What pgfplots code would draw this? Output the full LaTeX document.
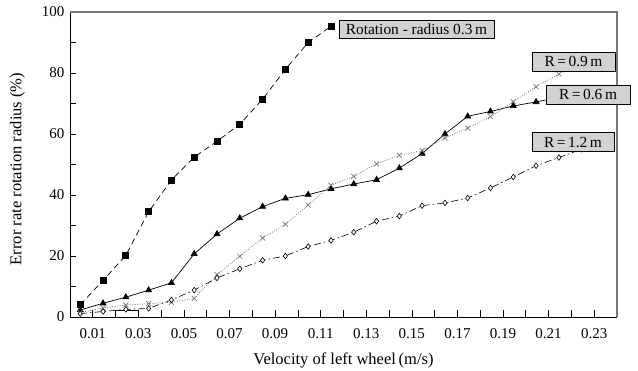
\documentclass[border=0pt]{standalone}
\usepackage{fontspec}
\setmainfont{Liberation Serif}
\usepackage{pgfplots}
\pgfplotsset{compat=1.18}
\definecolor{boxgray}{RGB}{210,210,210}
\definecolor{axgray}{RGB}{120,120,120}
\pgfplotstableread{
x y
0.0045 4.0
0.0145 12.0
0.0245 20.2
0.0345 34.5
0.0445 44.9
0.0545 52.4
0.0645 57.6
0.0745 63.2
0.0845 71.4
0.0945 81.2
0.1045 90.0
0.1145 95.3
}\rotdata
\pgfplotstableread{
x y
0.0045 2.3
0.0145 4.5
0.0245 6.5
0.0345 8.8
0.0445 11.2
0.0545 20.7
0.0645 27.2
0.0745 32.4
0.0845 36.2
0.0945 38.9
0.1045 40.1
0.1145 42.0
0.1245 43.6
0.1345 45.0
0.1445 48.8
0.1545 53.6
0.1645 60.0
0.1745 65.8
0.1845 67.4
0.1945 69.2
0.2045 70.5
0.2145 72.0
0.2245 73.0
}\rsixdata
\pgfplotstableread{
x y
0.0045 1.4
0.0145 3.0
0.0245 3.9
0.0345 4.4
0.0445 4.8
0.0545 6.1
0.0645 13.9
0.0745 19.9
0.0845 25.9
0.0945 30.4
0.1045 36.7
0.1145 43.2
0.1245 46.1
0.1345 50.2
0.1445 53.0
0.1545 54.6
0.1645 58.7
0.1745 61.9
0.1845 65.7
0.1945 70.6
0.2045 75.5
0.2145 79.7
0.2245 83.0
}\rninedata
\pgfplotstableread{
x y
0.0045 1.1
0.0145 1.8
0.0245 2.5
0.0345 2.8
0.0445 5.6
0.0545 8.8
0.0645 12.8
0.0745 15.8
0.0845 18.6
0.0945 20.0
0.1045 23.1
0.1145 25.1
0.1245 27.8
0.1345 31.4
0.1445 33.1
0.1545 36.5
0.1645 37.4
0.1745 39.0
0.1845 42.3
0.1945 45.9
0.2045 49.6
0.2145 52.3
0.2245 55.0
}\rtwelvedata
\begin{document}
\begin{tikzpicture}
\path[use as bounding box] (-70pt,-54pt) rectangle (568pt,317pt);
\begin{axis}[
  width=547pt, height=305pt, scale only axis,
  xmin=0, xmax=0.24, ymin=0, ymax=100,
  axis lines*=left,
  axis line style={black, line width=0.8pt},
  tick align=inside,
  major tick length=6.5pt, minor tick length=6.5pt,
  tick style={black, line width=0.7pt},
  xtick={0.01,0.03,0.05,0.07,0.09,0.11,0.13,0.15,0.17,0.19,0.21,0.23},
  xticklabels={0.01,0.03,0.05,0.07,0.09,0.11,0.13,0.15,0.17,0.19,0.21,0.23},
  minor xtick={0,0.02,0.04,0.06,0.08,0.10,0.12,0.14,0.16,0.18,0.20,0.22,0.24},
  ytick={0,20,40,60,80,100},
  yticklabels={0,20,40,60,80,100},
  minor ytick={10,30,50,70,90},
  xticklabel style={font=\fontsize{15}{17}\selectfont, yshift=-8pt},
  yticklabel style={font=\fontsize{15}{17}\selectfont, xshift=-2pt},
  xlabel={Velocity of left wheel\,(m/s)},
  ylabel={Error rate rotation radius (\%)},
  xlabel style={font=\fontsize{16.5}{18}\selectfont, at={(axis description cs:0.5,-0.143)}, anchor=center},
  ylabel style={font=\fontsize{16.5}{18}\selectfont, at={(axis description cs:-0.096,0.485)}, anchor=center},
  clip=false,
]
\addplot[black, line width=0.7pt, dash pattern=on 6pt off 4pt, mark=square*, mark size=3pt, mark options={solid}] table[x=x,y=y] {\rotdata};
\addplot[black, line width=0.7pt, mark=triangle*, mark size=3.4pt, mark options={solid}] table[x=x,y=y] {\rsixdata};
\addplot[axgray, line width=0.7pt, dash pattern=on 1pt off 1.5pt, mark=x, mark size=3.5pt, mark options={solid, axgray}] table[x=x,y=y] {\rninedata};
\addplot[black, line width=0.6pt, dash pattern=on 7pt off 3pt on 1.5pt off 3pt, mark=diamond*, mark size=2.8pt, mark options={solid, fill=white, draw=black}] table[x=x,y=y] {\rtwelvedata};
\draw[axgray, line width=1.2pt] (rel axis cs:0,1) -- (rel axis cs:1,1) -- (rel axis cs:1,0);
\draw[black, line width=0.6pt] (axis cs:0.02,2.2) -- (axis cs:0.03,2.2);
\coordinate (lrot) at (axis cs:0.1520,94.4);
\coordinate (lnine) at (axis cs:0.2209,83.8);
\coordinate (lsix) at (axis cs:0.2273,73.0);
\coordinate (ltwelve) at (axis cs:0.2207,57.3);
\end{axis}
\tikzset{lbl/.style={fill=boxgray, draw=black, line width=0.6pt, inner sep=0pt, minimum height=19pt, font=\fontsize{15.4}{17}\selectfont}}
\node[lbl, minimum width=155pt, minimum height=18pt] at (lrot) {Rotation - radius 0.3\,m};
\node[lbl, minimum width=83pt] at (lnine) {R\,=\,0.9\,m};
\node[lbl, minimum width=84pt] at (lsix) {R\,=\,0.6\,m};
\node[lbl, minimum width=82pt] at (ltwelve) {R\,=\,1.2\,m};
\end{tikzpicture}
\end{document}
